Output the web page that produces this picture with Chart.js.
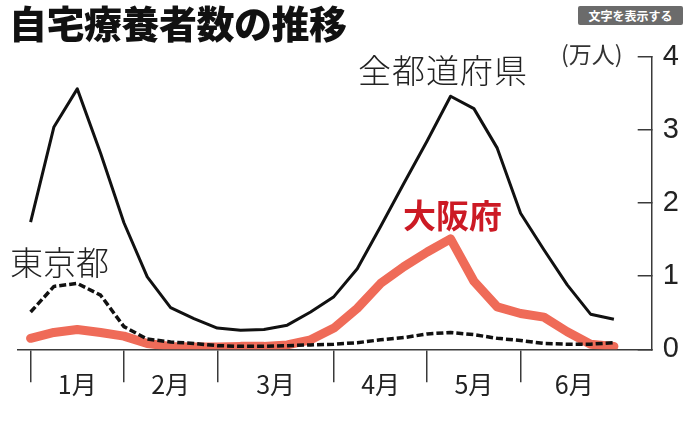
<!DOCTYPE html>
<html>
<head>
<meta charset="utf-8">
<script src="https://cdn.jsdelivr.net/npm/chart.js@4"></script>
<style>
  body { margin: 0; background: #fff; }
  #wrap { position: relative; width: 696px; height: 422px; overflow: hidden; }
  #wrap canvas { position: absolute; left: 0; top: 0; }
  .lbl { position: absolute; white-space: nowrap; line-height: 1; font-family: "Noto Sans CJK JP", sans-serif; color: #222; }
  #title { left: 9px; top: 3px; font-size: 38px; font-weight: 900; color: #111; letter-spacing: -0.5px; }
  #btn { left: 578px; top: 6px; width: 105px; height: 19px; background: #6b6b6b; color: #fff; font-size: 12px; font-weight: 700; text-align: center; line-height: 19px; border-radius: 2px; }
  #unit { left: 561px; top: 42px; font-size: 23px; color: #333; }
  #all { left: 358px; top: 53px; font-size: 33px; font-weight: 300; letter-spacing: 1px; }
  #tokyo { left: 10px; top: 245px; font-size: 33px; font-weight: 300; }
  #osaka { left: 403px; top: 198px; font-size: 33px; font-weight: 700; color: #cc1a24; }
</style>
</head>
<body>
<div id="wrap">
  <canvas id="chart" width="696" height="422"></canvas>
  <div class="lbl" id="title">自宅療養者数の推移</div>
  <div class="lbl" id="btn">文字を表示する</div>
  <div class="lbl" id="unit">(万人)</div>
  <div class="lbl" id="all">全都道府県</div>
  <div class="lbl" id="tokyo">東京都</div>
  <div class="lbl" id="osaka">大阪府</div>
</div>
<script>
// weekly values, unit: 10,000 people
var weeks = [0,1,2,3,4,5,6,7,8,9,10,11,12,13,14,15,16,17,18,19,20,21,22,23,24,25];
var allPrefs = [1.74,3.04,3.56,2.68,1.73,0.99,0.57,0.42,0.29,0.26,0.27,0.33,0.51,0.72,1.10,1.68,2.27,2.85,3.46,3.29,2.75,1.86,1.36,0.88,0.48,0.41];
var osaka    = [0.15,0.23,0.27,0.23,0.18,0.08,0.04,0.03,0.03,0.04,0.04,0.06,0.13,0.29,0.56,0.90,1.13,1.33,1.51,0.93,0.58,0.49,0.44,0.24,0.07,0.04];
var tokyo    = [0.51,0.86,0.90,0.74,0.31,0.14,0.10,0.08,0.05,0.04,0.04,0.05,0.06,0.07,0.09,0.13,0.16,0.21,0.23,0.20,0.15,0.12,0.08,0.07,0.07,0.09];

var monthEdges = [0,4,8,13,17,21];
var monthCenters = [2,6,10.5,15,19,23.3];
var monthLabels = ['1月','2月','3月','4月','5月','6月'];
var yTicks = [0,0.5,1,1.5,2,2.5,3,3.5,4];

function pts(vals) {
    return weeks.map((w, i) => ({x: w, y: vals[i]}));
}

var axisColor = '#3a3a3a';

function edgeColor(ctx) {
    return (ctx.tick && monthEdges.indexOf(ctx.tick.value) >= 0) ? axisColor : 'rgba(0,0,0,0)';
}

new Chart(document.getElementById('chart').getContext('2d'), {
    type: 'line',
    data: {
        datasets: [
            {
                label: '全都道府県',
                data: pts(allPrefs),
                borderColor: '#111',
                borderWidth: 3,
                order: 1
            },
            {
                label: '東京都',
                data: pts(tokyo),
                borderColor: '#111',
                borderWidth: 3.5,
                borderDash: [7, 3],
                borderCapStyle: 'butt',
                order: 2
            },
            {
                label: '大阪府',
                data: pts(osaka),
                borderColor: '#ef6b58',
                borderWidth: 9,
                borderCapStyle: 'round',
                order: 3
            }
        ]
    },
    options: {
        responsive: false,
        animation: false,
        layout: { padding: { top: 56.7, left: 18, right: 0, bottom: 0 } },
        elements: {
            point: { radius: 0 },
            line: { tension: 0, borderJoinStyle: 'round', fill: false }
        },
        plugins: {
            legend: { display: false },
            tooltip: { enabled: false }
        },
        scales: {
            x: {
                type: 'linear',
                min: -0.54,
                max: 26.62,
                afterBuildTicks: axis => {
                    axis.ticks = monthEdges.concat(monthCenters).sort((a, b) => a - b).map(v => ({value: v}));
                },
                afterFit: axis => { axis.height = 72.7; },
                border: { display: true, color: axisColor, width: 1.5 },
                grid: {
                    drawOnChartArea: false,
                    tickLength: 33,
                    color: edgeColor,
                    tickColor: edgeColor,
                    lineWidth: 1.5
                },
                ticks: {
                    autoSkip: false,
                    maxRotation: 0,
                    padding: -13,
                    color: '#222',
                    font: { family: '"Liberation Sans Narrow", "Noto Sans CJK JP", sans-serif', size: 25 },
                    callback: v => {
                        var k = monthCenters.indexOf(v);
                        return k >= 0 ? monthLabels[k] : '';
                    }
                }
            },
            y: {
                position: 'right',
                min: 0,
                max: 4,
                afterBuildTicks: axis => { axis.ticks = yTicks.map(v => ({value: v})); },
                afterFit: axis => { axis.width = 44.3; },
                border: { display: true, color: axisColor, width: 1.5 },
                grid: {
                    drawOnChartArea: false,
                    tickLength: -14,
                    color: axisColor,
                    lineWidth: 1.5
                },
                ticks: {
                    padding: 25,
                    color: '#222',
                    font: { family: '"Liberation Sans Narrow", "Liberation Sans", sans-serif', size: 29 },
                    callback: v => (v % 1 === 0 ? String(v) : '')
                }
            }
        }
    }
});
</script>
</body>
</html>
